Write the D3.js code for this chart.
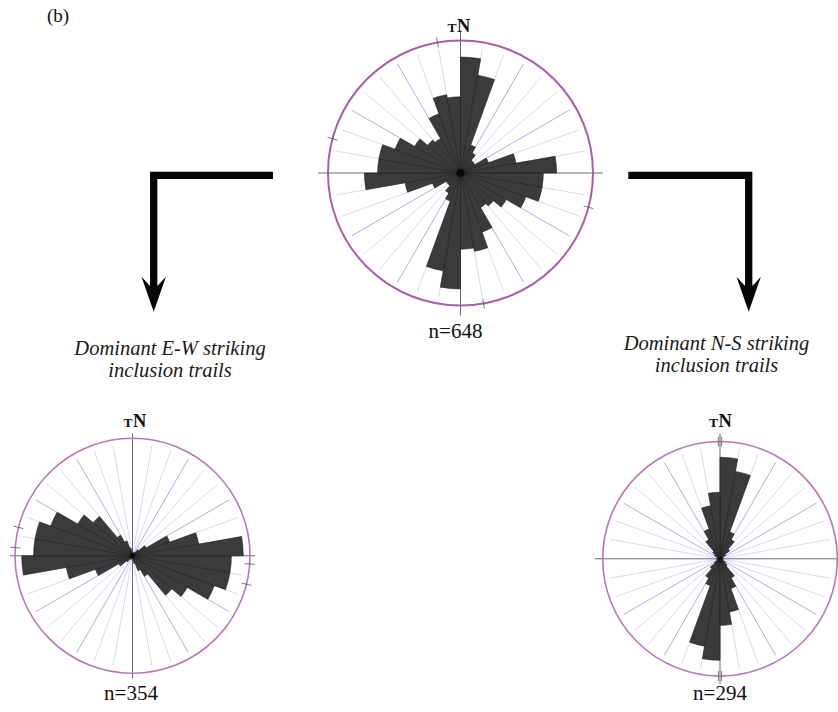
<!DOCTYPE html>
<html>
<head>
<meta charset="utf-8">
<script src="https://cdn.jsdelivr.net/npm/d3@7/dist/d3.min.js"></script>
<style>
  html, body { margin: 0; padding: 0; background: #ffffff; }
  svg { display: block; }
  svg text { font-family: "Liberation Serif", "DejaVu Serif", serif; }
</style>
</head>
<body>
<svg id="chart" width="838" height="712"></svg>
<script>
// Bin start angles (degrees clockwise from north), 10° bins over 0–180;
// strike data are axial, so each bin is repeated at +180°.
const binStarts = [0, 10, 20, 30, 40, 50, 60, 70, 80, 90, 100, 110, 120, 130, 140, 150, 160, 170];

// Counts per bin (each half of the axial pair)
const countsAll = [35, 30, 9, 7, 5, 5, 9, 17, 29, 25, 25, 21, 16, 13, 12, 19, 24, 23]; // n=648
const countsEW  = [0, 0, 1, 1, 2, 4, 10, 17, 28, 25, 25, 22, 16, 13, 6, 4, 2, 1];       // n=354
const countsNS  = [32, 28, 9, 7, 4, 2, 1, 1, 1, 0, 1, 1, 2, 3, 7, 10, 17, 21];          // n=294

// Sample sizes printed under each rose
const sampleSizes = [648, 354, 294];

// Small marks crossing the outer circle (degrees)
const ticksAll = [350, 170, 285, 105];
const ticksEW  = [274, 284, 94, 104];
const ticksNS  = [359.2, 0.8, 179.2, 180.8];

// Captions
const captionEW = ["Dominant E-W striking", "inclusion trails"];
const captionNS = ["Dominant N-S striking", "inclusion trails"];
const panelLabel = "(b)";

const svg = d3.select("#chart");
const rad = Math.PI / 180;

function rose(cfg) {
  const g = svg.append("g").attr("transform", `translate(${cfg.cx},${cfg.cy})`);
  const R = cfg.R;
  const r = d3.scaleLinear().domain([0, cfg.max]).range([0, R]);

  // spokes every 10°, stronger every 30°
  const spokes = d3.range(0, 360, 10).filter(d => d % 90 !== 0);
  g.selectAll("line.spoke").data(spokes).join("line")
    .attr("x1", 0).attr("y1", 0)
    .attr("x2", d => Math.sin(d * rad) * R * 0.95)
    .attr("y2", d => -Math.cos(d * rad) * R * 0.95)
    .attr("stroke", d => d % 30 === 0 ? "#aeaee4" : "#d8d8f3")
    .attr("stroke-width", 1);

  // axes through the centre
  const ext = cfg.ext;
  g.append("line").attr("x1", -R - ext).attr("x2", R + ext).attr("y1", 0).attr("y2", 0)
    .attr("stroke", "#6a6a7a").attr("stroke-width", 1);
  g.append("line").attr("x1", 0).attr("x2", 0).attr("y1", -R - ext).attr("y2", R + ext)
    .attr("stroke", "#6a6a7a").attr("stroke-width", 1);

  // outer circle
  g.append("circle").attr("r", R).attr("fill", "none")
    .attr("stroke", cfg.ring).attr("stroke-width", cfg.ringW);

  // circle marks
  g.selectAll("line.tick").data(cfg.ticks).join("line")
    .attr("x1", d => Math.sin(d * rad) * (R - 5))
    .attr("y1", d => -Math.cos(d * rad) * (R - 5))
    .attr("x2", d => Math.sin(d * rad) * (R + 5))
    .attr("y2", d => -Math.cos(d * rad) * (R + 5))
    .attr("stroke", "#555566").attr("stroke-width", 0.8);

  // petals: each bin drawn at its direction and the opposite one
  const petals = [];
  binStarts.forEach((a, i) => {
    petals.push({ a0: a, v: cfg.counts[i] });
    petals.push({ a0: a + 180, v: cfg.counts[i] });
  });
  const arc = d3.arc()
    .innerRadius(0)
    .outerRadius(d => r(d.v))
    .startAngle(d => d.a0 * rad)
    .endAngle(d => (d.a0 + 10) * rad);
  g.selectAll("path.petal").data(petals.filter(d => d.v > 0)).join("path")
    .attr("d", arc)
    .attr("fill", "#3b3b3b")
    .attr("stroke", "#1e1e1e")
    .attr("stroke-width", 0.6)
    .attr("stroke-linejoin", "miter");

  // hub
  g.append("circle").attr("r", cfg.hub).attr("fill", "#0a0a0a");

  // north label: small T followed by bold N
  const t = g.append("text")
    .attr("x", cfg.nx).attr("y", cfg.ny)
    .attr("font-weight", "bold").attr("fill", "#111");
  t.append("tspan").attr("font-size", 13.5).text("T");
  t.append("tspan").attr("font-size", 18.5).attr("dx", 0.5).text("N");

  // sample size
  svg.append("text")
    .attr("x", cfg.cx + cfg.sx).attr("y", cfg.sy)
    .attr("text-anchor", "middle")
    .attr("font-size", 21).attr("fill", "#111")
    .text("n=" + cfg.n);
}

rose({ cx: 460.5, cy: 173, R: 132.5, max: 40, ext: 10, counts: countsAll, ticks: ticksAll,
       ring: "#a860a8", ringW: 2, hub: 4, nx: -13, ny: 32 - 173, n: sampleSizes[0], sx: -5, sy: 338 });
rose({ cx: 132.5, cy: 555.8, R: 117.5, max: 29.7, ext: 5, counts: countsEW, ticks: ticksEW,
       ring: "#b878b8", ringW: 1.6, hub: 2.5, nx: -9, ny: 427 - 555.8, n: sampleSizes[1], sx: -1.5, sy: 700 });
rose({ cx: 720, cy: 558.8, R: 117.3, max: 37, ext: 8, counts: countsNS, ticks: ticksNS,
       ring: "#b878b8", ringW: 1.6, hub: 1.5, nx: -11, ny: 427 - 558.8, n: sampleSizes[2], sx: 0, sy: 700 });

// bent arrows leading from the combined rose to the two subsets
function bentArrow(x0, y, xc) {
  const w = 7.3, hw = 12.2, headTop = 276.7, notch = 286, tip = 311.7;
  const p = d3.path();
  const h = w / 2;
  const dir = Math.sign(xc - x0);
  p.moveTo(x0, y - h);
  p.lineTo(xc + dir * h, y - h);
  p.lineTo(xc + dir * h, notch);
  p.lineTo(xc + dir * hw, headTop);
  p.lineTo(xc, tip);
  p.lineTo(xc - dir * hw, headTop);
  p.lineTo(xc - dir * h, notch);
  p.lineTo(xc - dir * h, y + h);
  p.lineTo(x0, y + h);
  p.closePath();
  svg.append("path").attr("d", p.toString()).attr("fill", "#050505");
}
bentArrow(273, 175.3, 153.7);
bentArrow(628.3, 175.3, 748.7);

// captions
function caption(lines, x, y0) {
  const t = svg.append("text").attr("x", x).attr("y", y0)
    .attr("text-anchor", "middle")
    .attr("font-style", "italic").attr("font-size", 20.5).attr("fill", "#1a1a1a");
  lines.forEach((s, i) => t.append("tspan").attr("x", x).attr("dy", i ? 22 : 0).text(s));
}
caption(captionEW, 170, 355);
caption(captionNS, 716.5, 350);

svg.append("text").attr("x", 47).attr("y", 22)
  .attr("font-size", 19).attr("fill", "#111")
  .text(panelLabel);
</script>
</body>
</html>
